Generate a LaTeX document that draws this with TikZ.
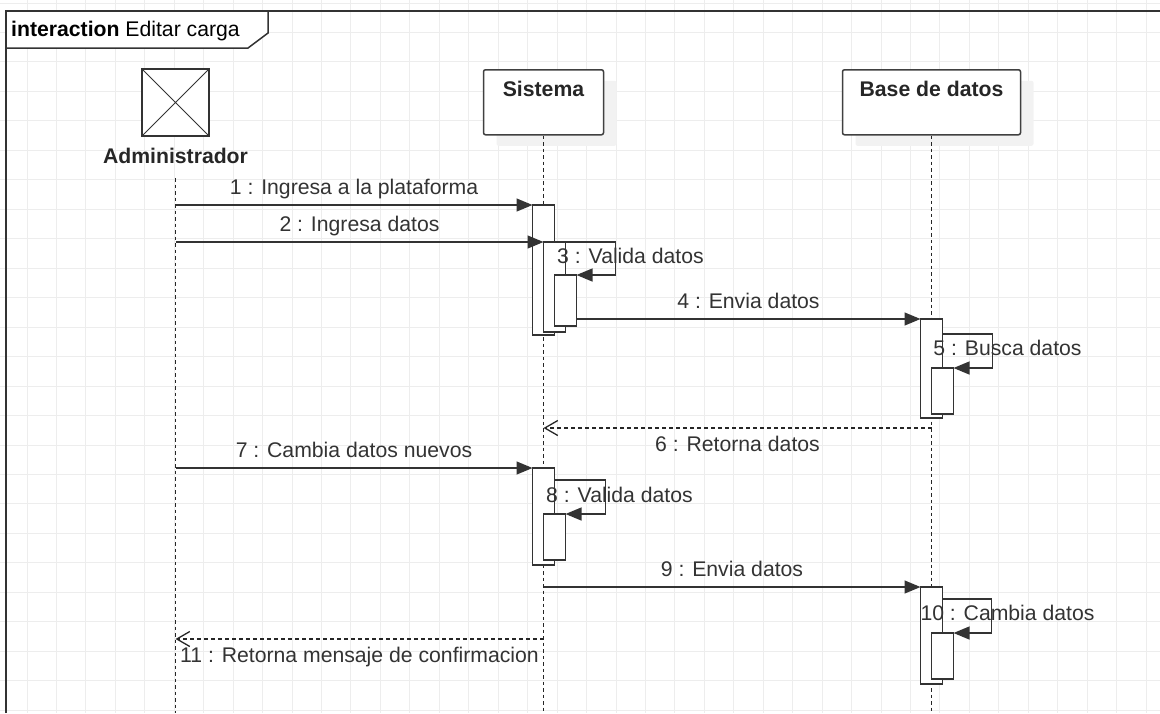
\documentclass[tikz,border=0pt]{standalone}
\usepackage{fontspec}
\setmainfont{Liberation Sans}
\usetikzlibrary{arrows.meta, positioning, shadows}

\begin{document}
\begin{tikzpicture}[x=1pt, y=-1pt,
  font=\fontsize{21.2}{25}\selectfont,
  gridline/.style={draw=black!7, line width=1pt},
  frame/.style={draw=black!80, line width=1.5pt},
  head/.style={draw=black!75, line width=1.5pt, fill=white, rounded corners=2pt, anchor=north, inner ysep=0pt, text height=27pt, text depth=38pt, font=\fontsize{21.2}{25}\selectfont\bfseries, text=black!85, drop shadow={shadow xshift=13pt, shadow yshift=-11pt, fill=black!5, opacity=1}},
  actor/.style={draw=black!80, line width=1.5pt, fill=white, minimum size=67pt, inner sep=0pt,
    path picture={\draw[line width=1pt, black!80] (path picture bounding box.north west) -- (path picture bounding box.south east) (path picture bounding box.north east) -- (path picture bounding box.south west);}},
  life/.style={draw=black!85, line width=1.5pt, dash pattern=on 3.5pt off 3pt},
  bar/.style={draw=black!80, line width=1.5pt, fill=white, minimum width=22pt, anchor=north west, inner sep=0pt, outer sep=0pt},
  lbl/.style={text=black!80, inner sep=0pt},
  msg/.style={draw=black!80, line width=1.3pt, arrows={-Triangle[length=16pt, width=13pt]}},
  ret/.style={draw=black!85, line width=1.3pt, dash pattern=on 4pt off 3pt, arrows={-Straight Barb[length=13pt, width=15pt]}},
  ]
  \useasboundingbox (0,0) rectangle (1160,713);

  % background grid
  \foreach \i in {0,...,39}
    \draw[gridline] ({27+29.45*\i},0) -- ({27+29.45*\i},713);
  \foreach \j in {0,...,24}
    \draw[gridline] (0,{3+29.47*\j}) -- (1160,{3+29.47*\j});

  % interaction frame
  \draw[frame] (6,713) -- (6,11) -- (1160,11);
  \draw[frame, fill=white] (6,11) -- (268,11) -- (268,33) -- (248,48) -- (6,48) -- cycle;
  \node[anchor=base west, inner sep=0pt] (title) at (11,36) {\textbf{interaction} Editar carga};

  % lifeline heads
  \node[actor] (admin) at (175.5,102.5) {};
  \node[lbl, font=\fontsize{21.2}{25}\selectfont\bfseries, text=black!85, anchor=base] (adminlbl) at (175.5,163) {Administrador};
  \node[head, minimum width=120pt] (sys) at (543.5,69) {Sistema};
  \node[head, minimum width=178pt] (db) at (931.5,69) {Base de datos};

  % lifelines
  \coordinate (adminend) at (175.5,713);
  \coordinate (sysend) at (543.5,713);
  \coordinate (dbend) at (931.5,713);
  \draw[life] ([yshift=-15pt]adminlbl.base) -- (adminend);
  \draw[life] (sys.south) -- (sysend);
  \draw[life] (db.south) -- (dbend);

  % activation bars
  \node[bar, minimum height=130pt] (a1) at (532.5,205) {};
  \node[bar, minimum height=90pt] (a2) at (543.5,242) {};
  \node[bar, minimum height=51pt] (a3) at (554.5,275) {};
  \node[bar, minimum height=99pt] (b1) at (920.5,319) {};
  \node[bar, minimum height=46pt] (b2) at (931.5,368) {};
  \node[bar, minimum height=97pt] (a4) at (532.5,468) {};
  \node[bar, minimum height=46pt] (a5) at (543.5,514) {};
  \node[bar, minimum height=97pt] (b3) at (920.5,587) {};
  \node[bar, minimum height=46pt] (b4) at (931.5,633) {};

  % messages
  \draw[msg] (a1.north west -| adminlbl) -- node[lbl, midway, anchor=base, yshift=10.5pt] (m1) {1 : Ingresa a la plataforma} (a1.north west);
  \draw[msg] (a2.north west -| adminlbl) -- node[lbl, midway, anchor=base, yshift=10.5pt] (m2) {2 : Ingresa datos} (a2.north west);
  \draw[msg] (a2.north east) -- ++(50,0) |- (a3.north east);
  \node[lbl, anchor=base] (m3) at ([xshift=65pt, yshift=-21pt]a2.north east) {3 : Valida datos};
  \draw[msg] (b1.north west -| a3.east) -- node[lbl, midway, anchor=base, yshift=10.5pt] (m4) {4 : Envia datos} (b1.north west);
  \draw[msg] ([yshift=-15pt]b1.north east) -- ++(50,0) |- (b2.north east);
  \node[lbl, anchor=base] (m5) at ([xshift=65pt, yshift=-36pt]b1.north east) {5 : Busca datos};
  \coordinate (r6) at (0,428);
  \draw[ret] (db |- r6) -- node[lbl, midway, anchor=base, yshift=-23.5pt] (m6) {6 : Retorna datos} (sys |- r6);
  \draw[msg] (a4.north west -| adminlbl) -- node[lbl, midway, anchor=base, yshift=10.5pt] (m7) {7 : Cambia datos nuevos} (a4.north west);
  \draw[msg] ([yshift=-12pt]a4.north east) -- ++(51,0) |- (a5.north east);
  \node[lbl, anchor=base] (m8) at ([xshift=65pt, yshift=-34pt]a4.north east) {8 : Valida datos};
  \draw[msg] (b3.north west -| sys) -- node[lbl, midway, anchor=base, yshift=10.5pt] (m9) {9 : Envia datos} (b3.north west);
  \draw[msg] ([yshift=-12pt]b3.north east) -- ++(49,0) |- (b4.north east);
  \node[lbl, anchor=base] (m10) at ([xshift=65pt, yshift=-33pt]b3.north east) {10 : Cambia datos};
  \coordinate (r11) at (0,639);
  \draw[ret] (sys |- r11) -- node[lbl, midway, anchor=base, yshift=-23.5pt] (m11) {11 : Retorna mensaje de confirmacion} (adminlbl |- r11);
\end{tikzpicture}
\end{document}
